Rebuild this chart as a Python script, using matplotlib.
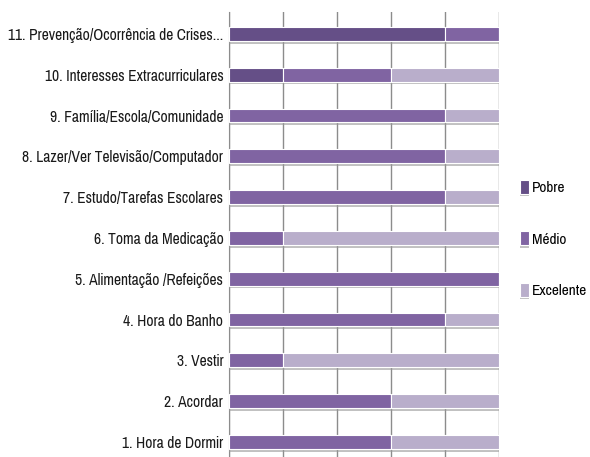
import matplotlib.pyplot as plt
import matplotlib.patheffects as pe
from matplotlib import font_manager

# categories bottom to top
categories = [
    "1. Hora de Dormir",
    "2. Acordar",
    "3. Vestir",
    "4. Hora do Banho",
    "5. Alimentação /Refeições",
    "6. Toma da Medicação",
    "7. Estudo/Tarefas Escolares",
    "8. Lazer/Ver Televisão/Computador",
    "9. Família/Escola/Comunidade",
    "10. Interesses Extracurriculares",
    "11. Prevenção/Ocorrência de Crises...",
]
pobre = [0, 0, 0, 0, 0, 0, 0, 0, 0, 20, 80]
medio = [60, 60, 20, 80, 100, 20, 80, 80, 80, 40, 20]
excelente = [40, 40, 80, 20, 0, 80, 20, 20, 20, 40, 0]

series_names = ["Pobre", "Médio", "Excelente"]
colors = ["#654f87", "#8064a2", "#b9aecb"]

# narrow font like the original (Calibri squeezed)
wanted = ["Pragati Narrow", "PT Sans Narrow", "Archivo Narrow", "Roboto Condensed",
          "Open Sans Condensed", "Fira Sans Condensed", "Encode Sans Condensed",
          "Asap Condensed", "Liberation Sans Narrow"]
names = {f.name for f in font_manager.fontManager.ttflist}
fam = next((w for w in wanted if w in names), "DejaVu Sans")
plt.rcParams["font.family"] = [fam, "DejaVu Sans"]

fig = plt.figure(figsize=(5.9, 4.57), dpi=100)
ax = fig.add_axes([0.388, 0.0, 0.458, 0.974])

shadow = [pe.SimplePatchShadow(offset=(0, -2), shadow_rgbFace="#999999", alpha=0.6), pe.Normal()]
y = list(range(len(categories)))
left = [0] * len(categories)
for name, vals, c in zip(series_names, [pobre, medio, excelente], colors):
    bars = ax.barh(y, vals, left=left, height=0.34, color=c, edgecolor="white",
                   linewidth=0.8, label=name, zorder=3)
    for b in bars:
        b.set_path_effects(shadow)
    left = [l + v for l, v in zip(left, vals)]

ax.set_xlim(0, 100)
ax.set_ylim(-0.37, 10.54)
ax.set_xticks([0, 20, 40, 60, 80, 100])
ax.xaxis.grid(True, color="#8c8c8c", linewidth=1.0, zorder=0)
ax.set_axisbelow(True)
ax.tick_params(axis="x", bottom=False, labelbottom=False)
ax.tick_params(axis="y", length=0, pad=4, labelsize=12.2, labelcolor="#1a1a1a")
ax.set_yticks(y)
ax.set_yticklabels(categories)
for s in ["top", "right", "bottom"]:
    ax.spines[s].set_visible(False)
ax.spines["left"].set_color("#8c8c8c")

fig.legend(loc="center left", bbox_to_anchor=(0.882, 0.477), frameon=False,
           fontsize=12, labelspacing=2.15, handlelength=0.5, handleheight=0.9,
           handletextpad=0.2, borderaxespad=0.0, borderpad=0.0)

fig.savefig("out.png", dpi=100)
